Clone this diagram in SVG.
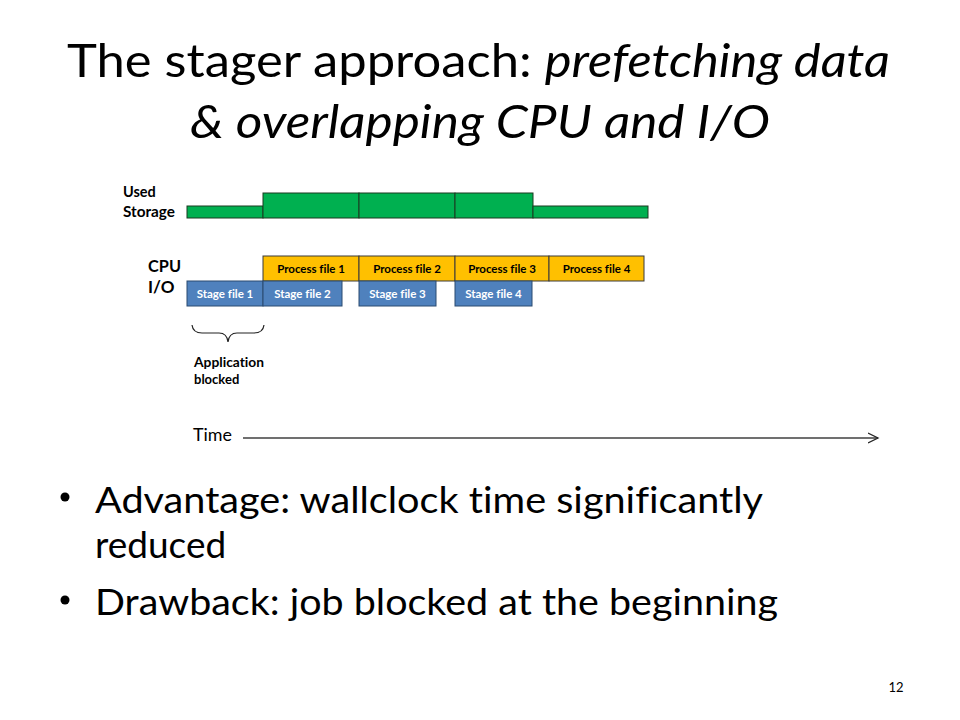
<svg xmlns="http://www.w3.org/2000/svg" width="960" height="720" viewBox="0 0 960 720">
<defs>
<marker id="open" markerWidth="12" markerHeight="12" refX="10" refY="6" orient="auto" markerUnits="userSpaceOnUse">
<path d="M0,1 L10,6 L0,11" fill="none" stroke="#262626" stroke-width="1.3"/>
</marker>
<style>
text{font-variant-ligatures:none}
.t{font-family:Lato,"Open Sans",sans-serif;fill:#000}
.title{font-size:46px}
.bul{font-size:37px}
.lab{font-family:Lato,"Open Sans",sans-serif;font-weight:bold;fill:#000}
.store{fill:#00B050;stroke:#1a3a20;stroke-width:1}
.proc{fill:#FFC000;stroke:#3a3a3a;stroke-width:1}
.stage{fill:#4F81BD;stroke:#2a4a70;stroke-width:1}
.pt{font-family:Lato,"Open Sans",sans-serif;font-weight:bold;font-size:11.5px;fill:#000;text-anchor:middle}
.st{font-family:Lato,"Open Sans",sans-serif;font-weight:bold;font-size:11.5px;fill:#fff;text-anchor:middle}
</style>
</defs>
<rect width="960" height="720" fill="#fff"/>
<g id="title">
<text class="t title" x="67" y="77" textLength="823" lengthAdjust="spacingAndGlyphs">The stager approach: <tspan font-style="italic">prefetching data</tspan></text>
<text class="t title" x="190" y="138" font-style="italic" textLength="580" lengthAdjust="spacingAndGlyphs">&amp; overlapping CPU and I/O</text>
</g>
<g id="labels">
<text class="lab" x="123" y="197" font-size="14.5">Used</text>
<text class="lab" x="123" y="217" font-size="14.5" textLength="52" lengthAdjust="spacingAndGlyphs">Storage</text>
<text class="lab" x="148" y="272" font-size="17" textLength="33" lengthAdjust="spacingAndGlyphs">CPU</text>
<text class="lab" x="148" y="293" font-size="17">I/O</text>
</g>
<g id="storage">
<rect class="store" x="187" y="206" width="76" height="12"/>
<rect class="store" x="263" y="193" width="96" height="25"/>
<rect class="store" x="359" y="193" width="96" height="25"/>
<rect class="store" x="455" y="193" width="78" height="25"/>
<rect class="store" x="533" y="206" width="115" height="12"/>
</g>
<g id="process1"><rect class="proc" x="263" y="256" width="96" height="25"/><text class="pt" x="311" y="272.5">Process file 1</text></g>
<g id="process2"><rect class="proc" x="359" y="256" width="96" height="25"/><text class="pt" x="407" y="272.5">Process file 2</text></g>
<g id="process3"><rect class="proc" x="455" y="256" width="94" height="25"/><text class="pt" x="502" y="272.5">Process file 3</text></g>
<g id="process4"><rect class="proc" x="549" y="256" width="95" height="25"/><text class="pt" x="596.5" y="272.5">Process file 4</text></g>
<g id="stage1"><rect class="stage" x="187" y="281" width="76" height="25"/><text class="st" x="225" y="297.5">Stage file 1</text></g>
<g id="stage2"><rect class="stage" x="263" y="281" width="79" height="25"/><text class="st" x="302.5" y="297.5">Stage file 2</text></g>
<g id="stage3"><rect class="stage" x="359" y="281" width="77" height="25"/><text class="st" x="397.5" y="297.5">Stage file 3</text></g>
<g id="stage4"><rect class="stage" x="455" y="281" width="77" height="25"/><text class="st" x="493.5" y="297.5">Stage file 4</text></g>
<g id="blocked">
<path d="M192,325 Q193,333 202,333 L219,333 Q227,333 228,342 Q229,333 237,333 L254,333 Q263,333 264,325" fill="none" stroke="#222" stroke-width="1.2"/>
<text class="lab" x="194" y="367" font-size="13" textLength="70" lengthAdjust="spacingAndGlyphs">Application</text>
<text class="lab" x="194" y="384" font-size="13">blocked</text>
</g>
<g id="connectors">
<line x1="243" y1="438" x2="878" y2="438" stroke="#404040" stroke-width="1.5" marker-end="url(#open)"/>
</g>
<text class="t" x="193" y="441" font-size="17" fill="#222" textLength="39" lengthAdjust="spacingAndGlyphs">Time</text>
<g id="bullets">
<circle cx="65" cy="497" r="4.5" fill="#000"/>
<text class="t bul" x="95" y="513" textLength="668" lengthAdjust="spacingAndGlyphs">Advantage: wallclock time significantly</text>
<text class="t bul" x="95" y="558">reduced</text>
<circle cx="65" cy="600" r="4.5" fill="#000"/>
<text class="t bul" x="95" y="615" textLength="683" lengthAdjust="spacingAndGlyphs">Drawback: job blocked at the beginning</text>
</g>
<text class="t" x="896" y="692" font-size="13" fill="#8c8c8c" text-anchor="middle">12</text>
</svg>
